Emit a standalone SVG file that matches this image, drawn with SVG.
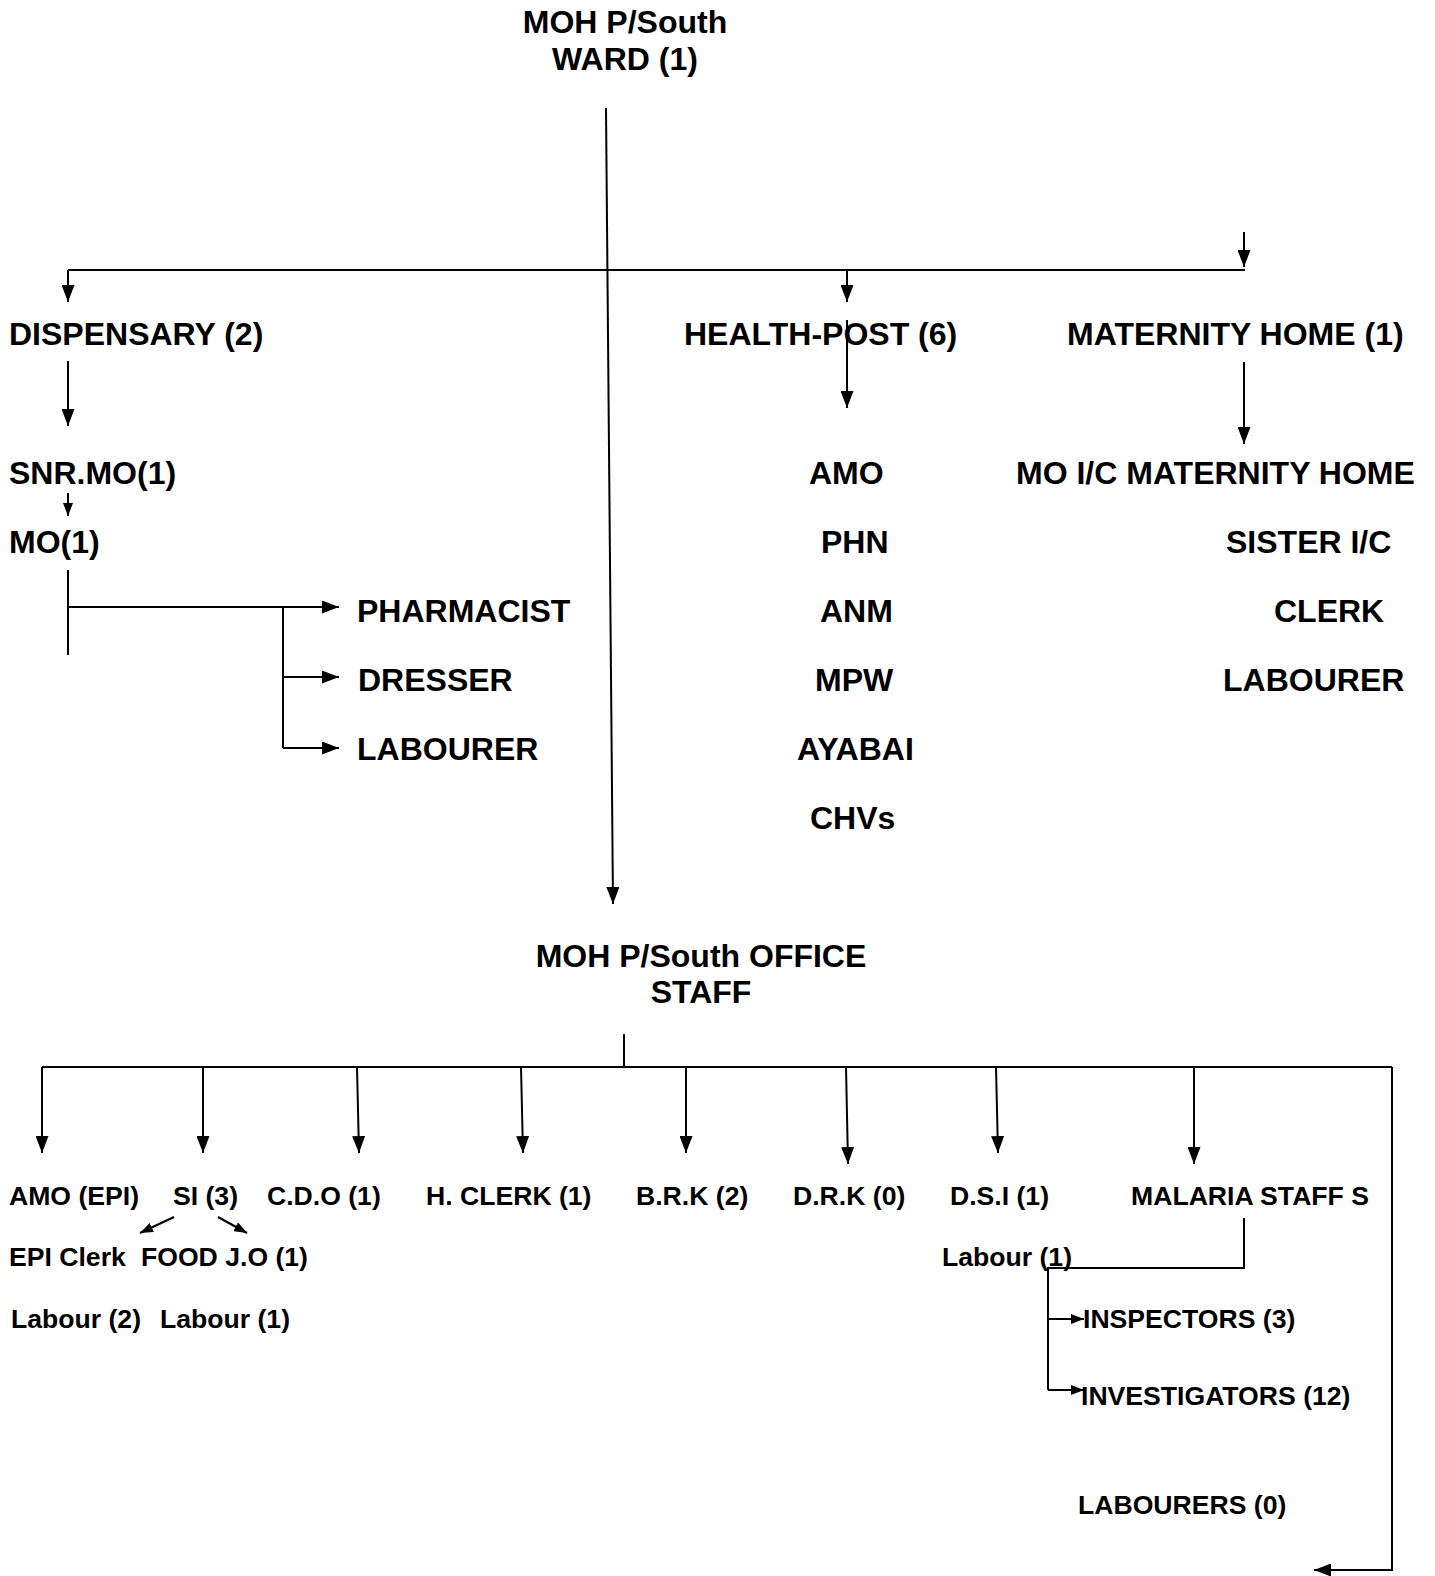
<svg xmlns="http://www.w3.org/2000/svg" width="1435" height="1576" viewBox="0 0 1435 1576">
<defs>
<style>
.t{font-family:"Liberation Sans",Arial,sans-serif;font-weight:bold;font-size:32px;fill:#000}
.s{font-family:"Liberation Sans",Arial,sans-serif;font-weight:bold;font-size:26.6px;fill:#000}
.c{text-anchor:middle}
.l{stroke:#000;stroke-width:2;fill:none}
.a{stroke:#000;stroke-width:2;fill:none;marker-end:url(#ah)}
.b{stroke:#000;stroke-width:2;fill:none;marker-end:url(#sh)}
</style>
<marker id="ah" markerUnits="userSpaceOnUse" viewBox="0 0 17 13" refX="17" refY="6.5" markerWidth="17" markerHeight="13" orient="auto"><path d="M0,0 L17,6.5 L0,13 z" fill="#000"/></marker>
<marker id="sh" markerUnits="userSpaceOnUse" viewBox="0 0 13 10" refX="13" refY="5" markerWidth="13" markerHeight="10" orient="auto"><path d="M0,0 L13,5 L0,10 z" fill="#000"/></marker>
</defs>
<rect width="1435" height="1576" fill="#fff"/>

<g id="connectors">
<line class="a" x1="606" y1="108" x2="613" y2="904"/>
<line class="l" x1="68" y1="270" x2="1245" y2="270"/>
<line class="a" x1="68" y1="270" x2="68" y2="302"/>
<line class="a" x1="847" y1="270" x2="847" y2="302"/>
<line class="a" x1="1244" y1="232" x2="1244" y2="267"/>
<line class="a" x1="68" y1="361" x2="68" y2="426"/>
<line class="b" x1="68" y1="493" x2="68" y2="516"/>
<line class="l" x1="68" y1="570" x2="68" y2="655"/>
<line class="a" x1="68" y1="607" x2="339" y2="607"/>
<line class="l" x1="283" y1="607" x2="283" y2="748"/>
<line class="a" x1="283" y1="677" x2="339" y2="677"/>
<line class="a" x1="283" y1="748" x2="339" y2="748"/>
<line class="a" x1="847" y1="320" x2="847" y2="408"/>
<line class="a" x1="1244" y1="362" x2="1244" y2="444"/>
<line class="l" x1="624" y1="1034" x2="624" y2="1067"/>
<line class="l" x1="42" y1="1067" x2="1392" y2="1067"/>
<polyline class="a" points="1392,1067 1392,1570 1314,1570"/>
<line class="a" x1="42" y1="1067" x2="42" y2="1153"/>
<line class="a" x1="203" y1="1067" x2="203" y2="1153"/>
<line class="a" x1="357" y1="1067" x2="359" y2="1153"/>
<line class="a" x1="521" y1="1067" x2="523" y2="1153"/>
<line class="a" x1="686" y1="1067" x2="686" y2="1153"/>
<line class="a" x1="846" y1="1067" x2="848" y2="1164"/>
<line class="a" x1="996" y1="1067" x2="998" y2="1153"/>
<line class="a" x1="1194" y1="1067" x2="1194" y2="1164"/>
<line class="b" x1="174" y1="1217" x2="140" y2="1233"/>
<line class="b" x1="218" y1="1217" x2="247" y2="1233"/>
<polyline class="l" points="1244,1218 1244,1268 1048,1268 1048,1390"/>
<line class="b" x1="1048" y1="1319" x2="1084" y2="1319"/>
<line class="b" x1="1048" y1="1390" x2="1084" y2="1390"/>
</g>

<g id="ward"><text class="t c" x="625" y="33">MOH P/South</text><text class="t c" x="625" y="70">WARD (1)</text></g>
<g id="dispensary"><text class="t" x="9" y="345">DISPENSARY (2)</text></g>
<g id="healthpost"><text class="t" x="684" y="345">HEALTH-POST (6)</text></g>
<g id="maternity"><text class="t" x="1067" y="345">MATERNITY HOME (1)</text></g>
<g id="snrmo"><text class="t" x="9" y="484">SNR.MO(1)</text></g>
<g id="mo"><text class="t" x="9" y="553">MO(1)</text></g>
<g id="pharmacist"><text class="t" x="357" y="622">PHARMACIST</text></g>
<g id="dresser"><text class="t" x="358" y="691">DRESSER</text></g>
<g id="labourer1"><text class="t" x="357" y="760">LABOURER</text></g>
<g id="amo"><text class="t" x="809" y="484">AMO</text></g>
<g id="phn"><text class="t" x="821" y="553">PHN</text></g>
<g id="anm"><text class="t" x="820" y="622">ANM</text></g>
<g id="mpw"><text class="t" x="815" y="691">MPW</text></g>
<g id="ayabai"><text class="t" x="797" y="760">AYABAI</text></g>
<g id="chvs"><text class="t" x="810" y="829">CHVs</text></g>
<g id="moic"><text class="t" x="1016" y="484">MO I/C MATERNITY HOME</text></g>
<g id="sister"><text class="t" x="1226" y="553">SISTER I/C</text></g>
<g id="clerk"><text class="t" x="1274" y="622">CLERK</text></g>
<g id="labourer2"><text class="t" x="1223" y="691">LABOURER</text></g>
<g id="office"><text class="t c" x="701" y="967">MOH P/South OFFICE</text><text class="t c" x="701" y="1003">STAFF</text></g>
<g id="amoepi"><text class="s" x="9" y="1205">AMO (EPI)</text></g>
<g id="si"><text class="s" x="173" y="1205">SI (3)</text></g>
<g id="cdo"><text class="s" x="267" y="1205">C.D.O (1)</text></g>
<g id="hclerk"><text class="s" x="426" y="1205">H. CLERK (1)</text></g>
<g id="brk"><text class="s" x="636" y="1205">B.R.K (2)</text></g>
<g id="drk"><text class="s" x="793" y="1205">D.R.K (0)</text></g>
<g id="dsi"><text class="s" x="950" y="1205">D.S.I (1)</text></g>
<g id="malaria"><text class="s" x="1131" y="1205" textLength="238" lengthAdjust="spacing">MALARIA STAFF S</text></g>
<g id="epiclerk"><text class="s" x="9" y="1266">EPI Clerk</text></g>
<g id="foodjo"><text class="s" x="141" y="1266">FOOD J.O (1)</text></g>
<g id="labourdsi"><text class="s" x="942" y="1266">Labour (1)</text></g>
<g id="labour2"><text class="s" x="11" y="1328">Labour (2)</text></g>
<g id="labour1"><text class="s" x="160" y="1328">Labour (1)</text></g>
<g id="inspectors"><text class="s" x="1083" y="1328">INSPECTORS (3)</text></g>
<g id="investigators"><text class="s" x="1081" y="1405">INVESTIGATORS (12)</text></g>
<g id="labourers"><text class="s" x="1078" y="1514">LABOURERS (0)</text></g>
</svg>
